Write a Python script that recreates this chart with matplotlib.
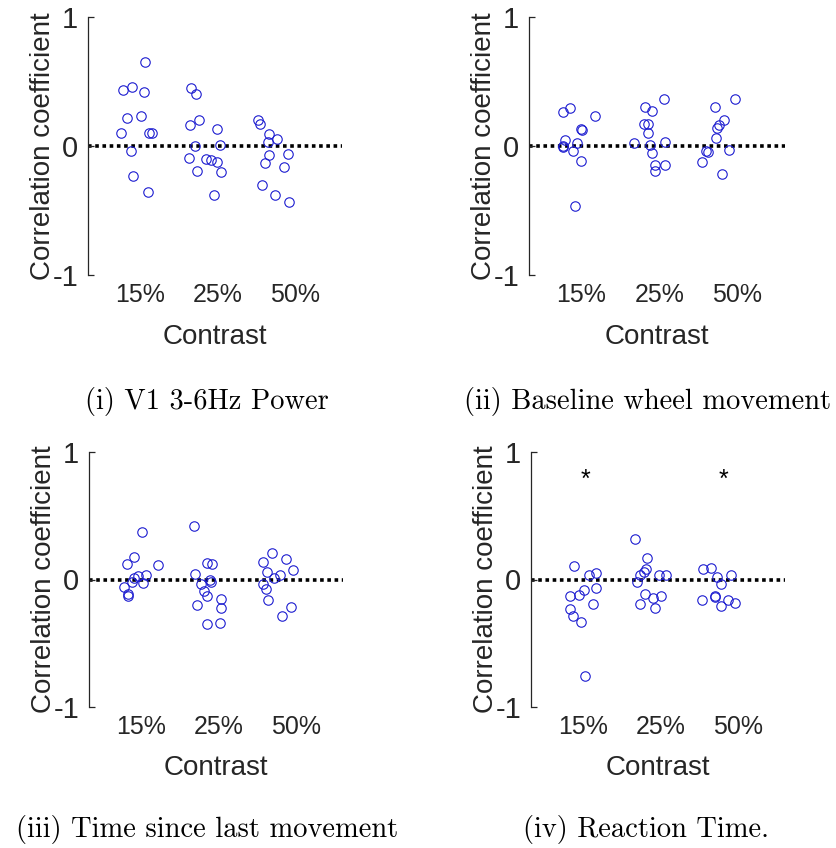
import numpy as np
import matplotlib.pyplot as plt

# contrast levels and tick labels
contrasts = [1, 2, 3]
contrast_labels = ['15%', '25%', '50%']

# (i) V1 3-6Hz Power
x1 = [1.06, 0.78, 0.90, 1.05, 0.84, 1.01, 0.75, 1.12, 1.16, 0.88, 0.91, 1.10,
      1.66, 1.72, 1.65, 1.76, 1.99, 1.71, 2.04, 1.64, 1.85, 1.92, 1.99, 1.74, 2.05, 1.96,
      2.53, 2.55, 2.67, 2.77, 2.65, 2.67, 2.91, 2.61, 2.86, 2.58, 2.74, 2.92]
y1 = [0.65, 0.435, 0.455, 0.417, 0.22, 0.23, 0.10, 0.10, 0.10, -0.04, -0.235, -0.355,
      0.45, 0.40, 0.16, 0.20, 0.13, 0.0, 0.01, -0.09, -0.10, -0.11, -0.125, -0.19, -0.205, -0.38,
      0.205, 0.17, 0.09, 0.055, 0.03, -0.07, -0.06, -0.135, -0.16, -0.30, -0.38, -0.435]

# (ii) Baseline wheel movement
x2 = [0.77, 0.86, 1.18, 1.00, 1.01, 0.79, 0.76, 0.76, 0.95, 0.90, 1.00, 0.92,
      1.67, 1.81, 1.91, 2.06, 1.80, 1.86, 1.86, 1.88, 1.91, 2.07, 1.95, 1.95, 2.07,
      2.71, 2.97, 2.83, 2.76, 2.74, 2.73, 2.60, 2.62, 2.89, 2.55, 2.80]
y2 = [0.267, 0.295, 0.23, 0.13, 0.127, 0.047, 0.0, -0.01, 0.02, -0.036, -0.114, -0.466,
      0.023, 0.30, 0.275, 0.365, 0.174, 0.174, 0.10, 0.01, -0.054, 0.028, -0.15, -0.19, -0.145,
      0.303, 0.365, 0.205, 0.163, 0.137, 0.062, -0.041, -0.05, -0.031, -0.124, -0.22]

# (iii) Time since last movement
x3 = [1.01, 0.91, 0.82, 1.22, 1.06, 0.96, 0.91, 0.88, 1.03, 0.78, 0.84, 0.84,
      1.68, 1.70, 1.85, 1.92, 1.77, 1.89, 1.90, 1.81, 1.85, 2.04, 2.04, 1.72, 1.85, 2.02,
      2.69, 2.58, 2.88, 2.97, 2.63, 2.79, 2.72, 2.58, 2.61, 2.64, 2.94, 2.82]
y3 = [0.374, 0.178, 0.123, 0.115, 0.039, 0.026, 0.013, -0.018, -0.026, -0.06, -0.11, -0.13,
      0.42, 0.045, 0.126, 0.118, -0.034, 0.0, -0.018, -0.094, -0.126, -0.152, -0.222, -0.199, -0.346, -0.338,
      0.207, 0.139, 0.16, 0.073, 0.058, 0.039, 0.013, -0.039, -0.071, -0.16, -0.215, -0.288]

# (iv) Reaction Time
x4 = [0.88, 1.08, 1.17, 1.17, 1.02, 0.95, 0.83, 1.13, 0.83, 0.87, 0.98, 1.03,
      1.67, 1.83, 1.81, 1.79, 1.74, 1.70, 1.98, 2.07, 1.80, 2.01, 1.90, 1.74, 1.93,
      2.55, 2.65, 2.73, 2.78, 2.91, 2.54, 2.70, 2.71, 2.88, 2.97, 2.78]
y4 = [0.105, 0.034, 0.052, -0.065, -0.079, -0.123, -0.128, -0.191, -0.23, -0.283, -0.335, -0.757,
      0.32, 0.168, 0.084, 0.06, 0.034, -0.018, 0.034, 0.034, -0.113, -0.128, -0.149, -0.196, -0.223,
      0.086, 0.092, 0.021, -0.034, 0.034, -0.162, -0.128, -0.141, -0.157, -0.186, -0.207]
star_x = [1.03, 2.81]
star_y = [0.78, 0.78]

captions = ['(i) V1 3-6Hz Power', '(ii) Baseline wheel movement',
            '(iii) Time since last movement', '(iv) Reaction Time.']

W, H = 836, 848
fig = plt.figure(figsize=(W / 100, H / 100), dpi=100)

# axes boxes in pixels: left, top, width, height
boxes = [(88, 17, 254, 258), (529, 17, 256, 258),
         (89, 452, 254, 255), (531, 452, 254, 255)]
data = [(x1, y1), (x2, y2), (x3, y3), (x4, y4)]
tick_col = '#262626'

for i in range(4):
    l, t, w, h = boxes[i]
    ax = fig.add_axes([l / W, 1 - (t + h) / H, w / W, h / H])
    x, y = data[i]
    ax.plot([0.33, 3.61], [0, 0], color='black', lw=2.6, ls=(0, (1, 1)), zorder=1)
    ax.plot(x, y, 'o', mfc='none', mec='#1c1cd0', ms=6.8, mew=0.8, zorder=2)
    if i == 3:
        for sx, sy in zip(star_x, star_y):
            ax.text(sx, sy, '*', ha='center', va='center', fontsize=18,
                    family='Liberation Sans', color='black')
    ax.set_xlim(0.33, 3.61)
    ax.set_ylim(-1, 1)
    ax.set_xticks(contrasts)
    ax.set_xticklabels(contrast_labels)
    ax.set_yticks([-1, 0, 1])
    ax.set_yticklabels(['-1', '0', '1'])
    for s in ['top', 'right', 'bottom']:
        ax.spines[s].set_visible(False)
    ax.spines['left'].set_color(tick_col)
    ax.spines['left'].set_linewidth(0.9)
    ax.tick_params(axis='y', direction='in', length=4, width=0.9, color=tick_col,
                   labelsize=21, labelcolor=tick_col, pad=7)
    ax.tick_params(axis='x', length=0, labelsize=18, labelcolor=tick_col, pad=6)
    for lab in ax.get_xticklabels() + ax.get_yticklabels():
        lab.set_family('Liberation Sans')
    ax.set_ylabel('Correlation coefficient', fontsize=20, family='Liberation Sans',
                  color=tick_col)
    ax.yaxis.set_label_coords(-0.125, 0.5)
    ax.set_xlabel('Contrast', fontsize=20, family='Liberation Sans', color=tick_col, va='top')
    ax.xaxis.set_label_coords(0.5, -0.19)
    ax.patch.set_visible(False)

cap_pos = [(207, 401), (648, 401), (207, 830), (646, 830)]
for c, (cx, cy) in zip(captions, cap_pos):
    fig.text(cx / W, 1 - cy / H, c, ha='center', va='center', fontsize=20.5, family='cmr10')

fig.savefig('out.png', dpi=100)
